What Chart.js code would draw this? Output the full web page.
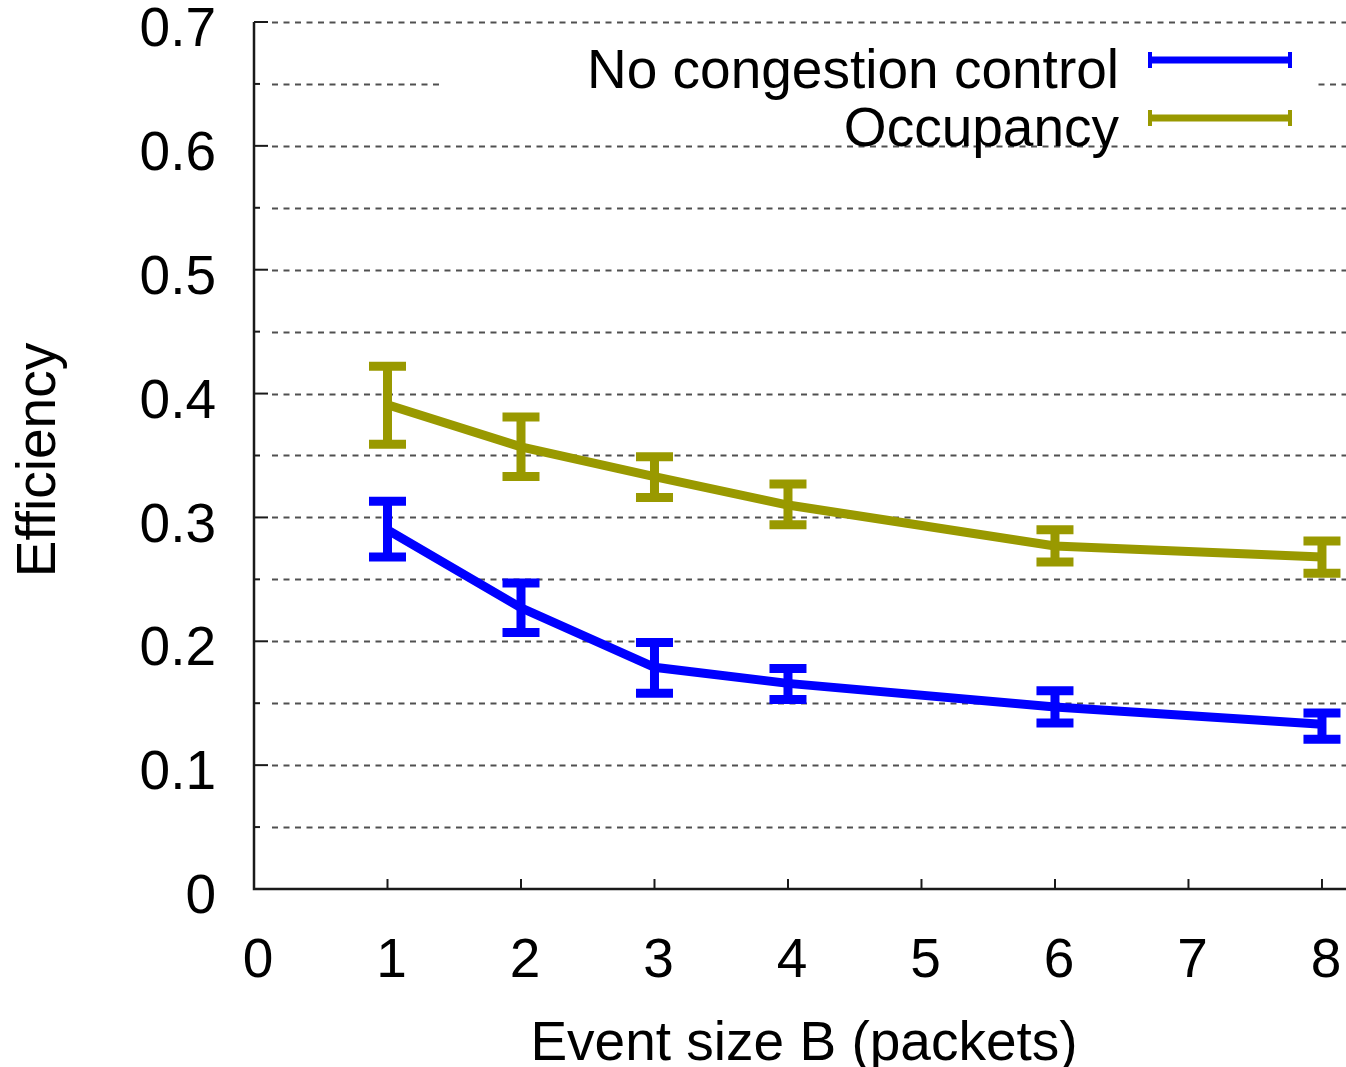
<!DOCTYPE html>
<html>
<head>
<meta charset="utf-8">
<script src="https://cdn.jsdelivr.net/npm/chart.js@4.4.0/dist/chart.umd.min.js"></script>
<style>
    html, body { margin: 0; padding: 0; background: #fff; }
</style>
</head>
<body>
<canvas id="chart" width="1346" height="1067"></canvas>
<script>
// event size B (packets)
const sizes = [1, 2, 3, 4, 6, 8];

const noCC = [0.290, 0.227, 0.179, 0.166, 0.147, 0.133];
const noCCLow = [0.268, 0.207, 0.158, 0.153, 0.134, 0.121];
const noCCHigh = [0.313, 0.247, 0.199, 0.178, 0.160, 0.142];

const occupancy = [0.391, 0.357, 0.333, 0.310, 0.277, 0.268];
const occupancyLow = [0.359, 0.333, 0.316, 0.294, 0.264, 0.255];
const occupancyHigh = [0.422, 0.381, 0.349, 0.327, 0.290, 0.281];

const xTicks = [0, 1, 2, 3, 4, 5, 6, 7, 8];
const yTicks = [0, 0.1, 0.2, 0.3, 0.4, 0.5, 0.6, 0.7];

const BLUE = "rgb(0,0,255)";
const OLIVE = "rgb(153,153,0)";
const FONT = "'Liberation Sans', Arial, sans-serif";
const SIZE = 55;

function points(ys) {
    return sizes.map((x, i) => ({ x: x, y: ys[i] }));
}

// gnuplot style frame: dotted grid, left + bottom axis, inward ticks
const frame = {
    id: "frame",
    beforeDatasetsDraw(chart) {
        let ctx = chart.ctx;
        let area = chart.chartArea;
        let x = chart.scales.x;
        let y = chart.scales.y;
        ctx.save();

        ctx.strokeStyle = "#505050";
        ctx.lineWidth = 2;
        ctx.setLineDash([6, 5.5]);
        for (let i = 1; i <= 14; i++) {
            let py = Math.round(y.getPixelForValue(i * 0.05)) + 0.5;
            ctx.beginPath();
            ctx.moveTo(area.left + 18, py);
            ctx.lineTo(area.right, py);
            ctx.stroke();
        }
        ctx.setLineDash([]);

        ctx.strokeStyle = "#1a1a1a";
        ctx.lineWidth = 2.5;
        ctx.beginPath();
        ctx.moveTo(area.left, y.getPixelForValue(0.7));
        ctx.lineTo(area.left, y.getPixelForValue(0));
        ctx.lineTo(area.right, y.getPixelForValue(0));
        ctx.stroke();

        ctx.lineWidth = 2;
        for (let i = 0; i <= 14; i++) {
            let py = y.getPixelForValue(i * 0.05);
            ctx.beginPath();
            ctx.moveTo(area.left, py);
            ctx.lineTo(area.left + (i % 2 ? 6 : 14), py);
            ctx.stroke();
        }
        xTicks.forEach((v) => {
            if (v === 0) return;
            let px = x.getPixelForValue(v);
            ctx.beginPath();
            ctx.moveTo(px, area.bottom);
            ctx.lineTo(px, area.bottom - 10);
            ctx.stroke();
        });

        // axis titles
        ctx.fillStyle = "#000";
        ctx.font = SIZE + "px " + FONT;
        ctx.textAlign = "center";
        ctx.textBaseline = "alphabetic";
        ctx.fillText("Event size B (packets)", 804, 1060);
        ctx.translate(55, 460);
        ctx.rotate(-Math.PI / 2);
        ctx.fillText("Efficiency", 0, 0);
        ctx.restore();
    },
    afterDatasetsDraw(chart) {
        let ctx = chart.ctx;
        let x = chart.scales.x;
        let y = chart.scales.y;
        let bars = [
            [noCCLow, noCCHigh, BLUE],
            [occupancyLow, occupancyHigh, OLIVE],
        ];
        ctx.save();
        bars.forEach(([low, high, color]) => {
            ctx.strokeStyle = color;
            ctx.lineWidth = 9;
            ctx.lineCap = "butt";
            sizes.forEach((s, i) => {
                let px = x.getPixelForValue(s);
                let top = y.getPixelForValue(high[i]);
                let bottom = y.getPixelForValue(low[i]);
                ctx.beginPath();
                ctx.moveTo(px, top);
                ctx.lineTo(px, bottom);
                ctx.moveTo(px - 18.5, top);
                ctx.lineTo(px + 18.5, top);
                ctx.moveTo(px - 18.5, bottom);
                ctx.lineTo(px + 18.5, bottom);
                ctx.stroke();
            });
        });
        ctx.restore();
    },
    afterDraw(chart) {
        let ctx = chart.ctx;
        ctx.save();
        ctx.fillStyle = "#fff";
        ctx.fillRect(440, 38, 878, 96);

        ctx.font = SIZE + "px " + FONT;
        ctx.textAlign = "right";
        ctx.textBaseline = "alphabetic";

        let entries = [
            ["No congestion control", BLUE, 60],
            ["Occupancy", OLIVE, 118],
        ];
        entries.forEach(([label, color, ly]) => {
            ctx.fillStyle = "#000";
            ctx.fillText(label, 1119, ly + 28);
            ctx.strokeStyle = color;
            ctx.lineWidth = 7;
            ctx.beginPath();
            ctx.moveTo(1148, ly);
            ctx.lineTo(1292, ly);
            ctx.stroke();
            ctx.lineWidth = 4;
            ctx.beginPath();
            ctx.moveTo(1150, ly - 8);
            ctx.lineTo(1150, ly + 8);
            ctx.moveTo(1290, ly - 8);
            ctx.lineTo(1290, ly + 8);
            ctx.stroke();
        });
        ctx.restore();
    },
};

chart = new Chart(document.getElementById("chart"), {
    type: "line",
    data: {
        datasets: [
            {
                label: "No congestion control",
                data: points(noCC),
                borderColor: BLUE,
                borderWidth: 9,
                pointRadius: 0,
                tension: 0,
                fill: false,
            },
            {
                label: "Occupancy",
                data: points(occupancy),
                borderColor: OLIVE,
                borderWidth: 9,
                pointRadius: 0,
                tension: 0,
                fill: false,
            },
        ],
    },
    options: {
        responsive: false,
        animation: false,
        layout: {
            padding: { top: 22, right: 0, left: 0, bottom: 0 },
        },
        plugins: {
            legend: { display: false },
            tooltip: { enabled: false },
        },
        scales: {
            x: {
                type: "linear",
                min: 0,
                max: 8.18,
                afterBuildTicks: (scale) => {
                    scale.ticks = xTicks.map((v) => ({ value: v }));
                },
                afterFit: (scale) => {
                    scale.height = 178;
                    scale.paddingLeft = 0;
                    scale.paddingRight = 0;
                },
                grid: { display: false, drawTicks: false },
                border: { display: false },
                ticks: {
                    padding: 40,
                    labelOffset: 4,
                    maxRotation: 0,
                    autoSkip: false,
                    color: "#000",
                    font: { family: FONT, size: SIZE },
                },
            },
            y: {
                min: 0,
                max: 0.7,
                afterBuildTicks: (scale) => {
                    scale.ticks = yTicks.map((v) => ({ value: v }));
                },
                afterFit: (scale) => {
                    scale.width = 254;
                    scale.paddingTop = 0;
                    scale.paddingBottom = 0;
                },
                grid: { display: false, drawTicks: false },
                border: { display: false },
                ticks: {
                    padding: 38,
                    labelOffset: 9,
                    color: "#000",
                    font: { family: FONT, size: SIZE },
                    callback: (v) => String(Math.round(v * 10) / 10),
                },
            },
        },
    },
    plugins: [frame],
});
</script>
</body>
</html>
